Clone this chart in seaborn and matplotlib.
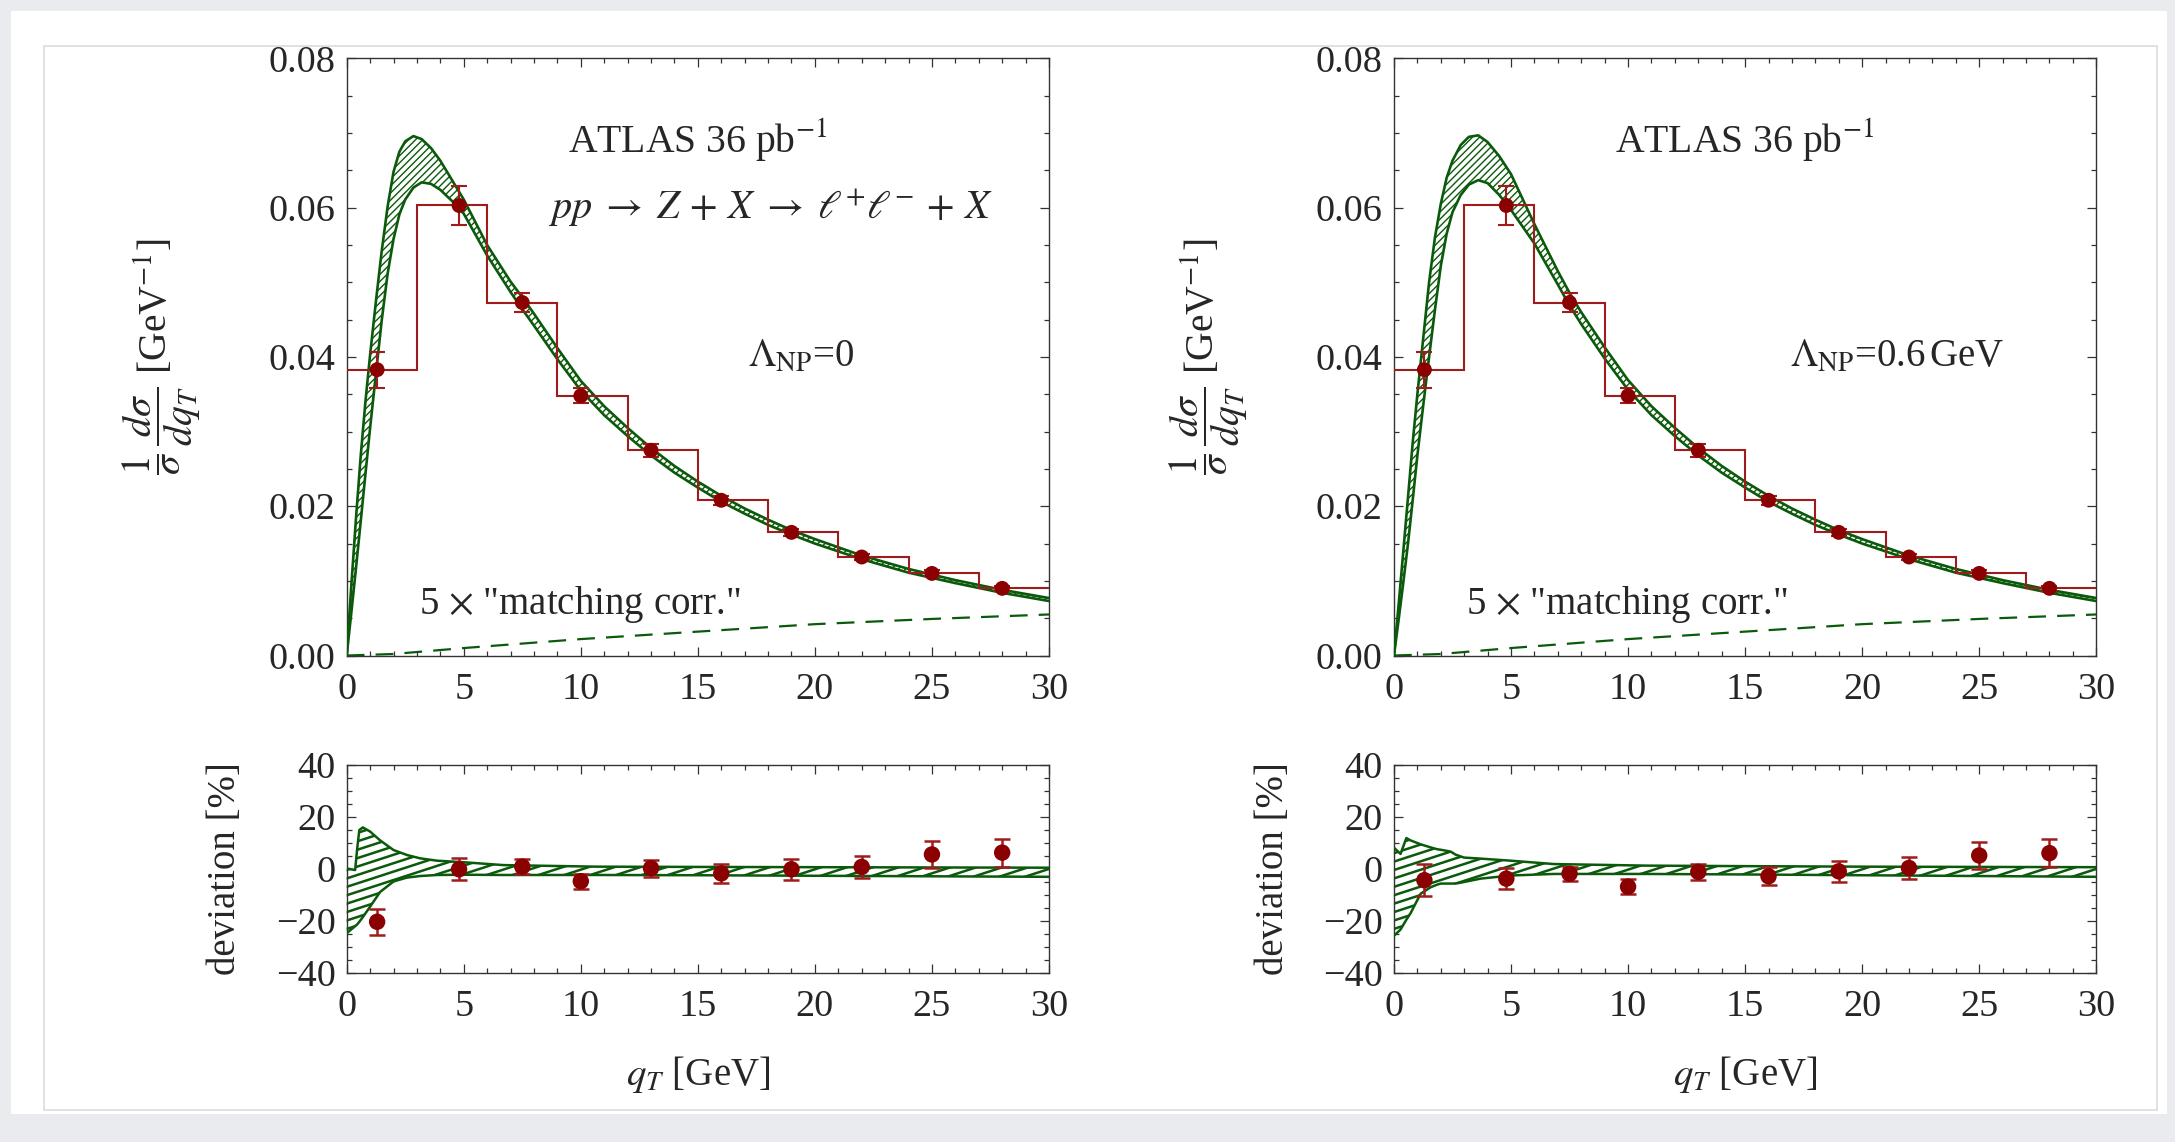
import numpy as np
import matplotlib
matplotlib.use("Agg")
import matplotlib.pyplot as plt
import seaborn as sns
from matplotlib.ticker import MultipleLocator, FormatStrFormatter
from matplotlib.patches import Rectangle
from matplotlib.collections import LineCollection

# =====================================================
# DATA
# =====================================================

# ATLAS 36 pb^-1 measurement, binned in qT
bin_edges = [0, 3, 6, 9, 12, 15, 18, 21, 24, 27, 30]
atlas_qt = [1.3, 4.8, 7.5, 10, 13, 16, 19, 22, 25, 28]
atlas_xs = [0.0383, 0.0603, 0.0473, 0.0348, 0.0275, 0.0208, 0.0165, 0.0132, 0.0110, 0.0090]
atlas_err = [0.0024, 0.0026, 0.0013, 0.0010, 0.0009, 0.0006, 0.0005, 0.0004, 0.0004, 0.0003]

# deviation of data from theory [%]
dev_data_0 = [-20.3, -0.1, 0.9, -4.7, 0.3, -1.7, -0.1, 0.8, 5.6, 6.3]
dev_err_0 = [5.1, 4.2, 3.0, 2.9, 3.3, 3.5, 4.1, 4.2, 5.3, 5.4]
dev_data_6 = [-4.3, -3.7, -1.8, -6.8, -1.1, -2.8, -0.9, 0.4, 5.2, 6.1]
dev_err_6 = [6.1, 4.1, 2.7, 2.8, 3.2, 3.4, 4.0, 4.1, 5.2, 5.3]

# theory band, qT grid
theory_qt = [0, 0.2, 0.4, 0.6, 0.8, 1.0, 1.25, 1.5, 1.75, 2.0, 2.25, 2.5, 2.85, 3.2, 3.6,
             4.0, 4.5, 5.0, 6, 7, 7.5, 8, 9, 10, 11, 12, 13, 14, 15, 16, 17, 18, 19, 20,
             22, 24, 26, 28, 30]
# Lambda_NP = 0
band_hi_0 = [0, 0.0095, 0.0185, 0.0268, 0.0340, 0.0403, 0.0475, 0.0543, 0.0602, 0.0648,
             0.0675, 0.0689, 0.0696, 0.0692, 0.0680, 0.0663, 0.0637, 0.0611, 0.0550, 0.0501,
             0.0480, 0.0458, 0.0412, 0.0368, 0.0334, 0.0305, 0.0278, 0.0254, 0.0233, 0.0214,
             0.0197, 0.0182, 0.0168, 0.0156, 0.0134, 0.0116, 0.0101, 0.0088, 0.0077]
band_lo_0 = [0, 0.0058, 0.0118, 0.0180, 0.0243, 0.0305, 0.0378, 0.0450, 0.0512, 0.0558,
             0.0591, 0.0611, 0.0627, 0.0634, 0.0632, 0.0624, 0.0609, 0.0592, 0.0536, 0.0487,
             0.0464, 0.0442, 0.0397, 0.0355, 0.0322, 0.0294, 0.0268, 0.0245, 0.0225, 0.0206,
             0.0190, 0.0175, 0.0162, 0.0150, 0.0129, 0.0111, 0.0097, 0.0084, 0.0073]
# Lambda_NP = 0.6 GeV
band_hi_6 = [0, 0.0068, 0.0140, 0.0212, 0.0285, 0.0350, 0.0425, 0.0500, 0.0560, 0.0605,
             0.0640, 0.0663, 0.0684, 0.0695, 0.0697, 0.0688, 0.0669, 0.0645, 0.0578, 0.0515,
             0.0486, 0.0460, 0.0413, 0.0369, 0.0334, 0.0305, 0.0278, 0.0254, 0.0233, 0.0214,
             0.0197, 0.0182, 0.0168, 0.0156, 0.0134, 0.0116, 0.0101, 0.0088, 0.0077]
band_lo_6 = [0, 0.0048, 0.0098, 0.0150, 0.0208, 0.0268, 0.0335, 0.0400, 0.0463, 0.0522,
             0.0565, 0.0594, 0.0617, 0.0631, 0.0637, 0.0633, 0.0617, 0.0597, 0.0552, 0.0497,
             0.0469, 0.0444, 0.0398, 0.0356, 0.0322, 0.0294, 0.0268, 0.0245, 0.0225, 0.0206,
             0.0190, 0.0175, 0.0162, 0.0150, 0.0129, 0.0111, 0.0097, 0.0084, 0.0073]

# 5 x "matching corr."
match_qt = [0, 2, 5, 10, 15, 20, 25, 30]
match_val = [0, 0.0002, 0.0010, 0.0022, 0.0032, 0.0042, 0.0049, 0.0055]

# deviation band [%]
dev_qt_0 = [0, 0.36, 0.45, 0.54, 0.69, 1.0, 1.43, 2.0, 2.57, 3.14, 3.86, 5, 6.7, 10.7, 15, 20, 25, 30]
dev_hi_0 = [0.2, -0.4, 8, 15, 16, 14.4, 11, 7.3, 5.4, 4.1, 3.2, 2.6, 1.5, 0.9, 0.8, 0.7, 0.6, 0.5]
dev_lo_0 = [-24.7, -22, -21.3, -20.3, -18.5, -14.5, -8.8, -4.8, -3.3, -2.7, -2.3, -2.2, -2.3,
            -2.3, -2.4, -2.6, -2.8, -3.0]
dev_qt_6 = [0, 0.28, 0.53, 0.71, 1.14, 1.57, 1.85, 2.0, 2.42, 2.64, 2.99, 3.7, 4.99, 6.84, 10.8,
            15, 20, 25, 30]
dev_hi_6 = [8.2, 5.8, 11.9, 11, 9.5, 8.3, 7.6, 7.4, 6.7, 5.5, 4.4, 4.0, 3.2, 1.9, 1.3, 1.1, 0.9,
            0.8, 0.7]
dev_lo_6 = [-25.7, -23.3, -19.5, -17, -9.5, -7, -6, -5.6, -5.6, -5.6, -5, -3.7, -2.5, -1.9, -1.9,
            -2.1, -2.4, -2.7, -3.0]

panels = [
    {"hi": band_hi_0, "lo": band_lo_0, "dqt": dev_qt_0, "dhi": dev_hi_0, "dlo": dev_lo_0,
     "dev": dev_data_0, "derr": dev_err_0, "lam": r"$\Lambda_{\mathrm{NP}}$=0", "lam_x": 19.4,
     "process": True, "left": 0.1594},
    {"hi": band_hi_6, "lo": band_lo_6, "dqt": dev_qt_6, "dhi": dev_hi_6, "dlo": dev_lo_6,
     "dev": dev_data_6, "derr": dev_err_6, "lam": r"$\Lambda_{\mathrm{NP}}$=0.6$\,$GeV",
     "lam_x": 21.5, "process": False, "left": 0.6409},
]

# =====================================================
# STYLE
# =====================================================

sns.set_style("ticks")
plt.rcParams["font.family"] = ["Liberation Serif", "DejaVu Serif"]
plt.rcParams["mathtext.fontset"] = "stix"
plt.rcParams["axes.linewidth"] = 1.0
plt.rcParams["axes.edgecolor"] = "#333333"

RED = "#8b0000"
RED_LINE = "#a01c1c"
GREEN = "#0b5a0b"

fig = plt.figure(figsize=(21.75, 11.42), dpi=100)
fig.patch.set_facecolor("#eaebef")
fig.add_artist(Rectangle((11 / 2175, 1 - 1114 / 1142), 2156 / 2175, 1103 / 1142,
                         transform=fig.transFigure, facecolor="white", edgecolor="none",
                         zorder=-10))
fig.add_artist(Rectangle((44 / 2175, 1 - 1110 / 1142), 2113 / 2175, 1064 / 1142,
                         transform=fig.transFigure, facecolor="white", edgecolor="#dcdcdc",
                         linewidth=1.2, zorder=-9))


def hatch_band(ax, band, angle, spacing, lw):
    # manual hatching (clipped to the band) so the angle can be chosen
    bb = ax.get_window_extent()
    cx, cy = (bb.x0 + bb.x1) / 2, (bb.y0 + bb.y1) / 2
    diag = np.hypot(bb.width, bb.height)
    a = np.deg2rad(angle)
    d = np.array([np.cos(a), np.sin(a)])
    n = np.array([-np.sin(a), np.cos(a)])
    inv = ax.transAxes.inverted()
    segs = []
    for c in np.arange(-diag, diag, spacing):
        p0 = np.array([cx, cy]) + c * n - diag * d
        p1 = np.array([cx, cy]) + c * n + diag * d
        segs.append(inv.transform([p0, p1]))
    lc = LineCollection(segs, colors=GREEN, linewidths=lw, transform=ax.transAxes, zorder=2)
    lc.set_clip_path(band.get_paths()[0], ax.transData)
    ax.add_collection(lc)


def style_axes(ax, ymaj, ymin):
    ax.set_xlim(0, 30)
    ax.xaxis.set_major_locator(MultipleLocator(5))
    ax.xaxis.set_minor_locator(MultipleLocator(1))
    ax.yaxis.set_major_locator(MultipleLocator(ymaj))
    ax.yaxis.set_minor_locator(MultipleLocator(ymin))
    ax.tick_params(which="both", direction="in", top=True, right=True, width=0.9,
                   color="#333333", labelsize=27.5)
    ax.tick_params(which="major", length=6.5)
    ax.tick_params(which="minor", length=3.6)
    ax.tick_params(axis="x", pad=12)
    ax.tick_params(axis="y", pad=8)
    for s in ax.spines.values():
        s.set_visible(True)


for p in panels:
    ax = fig.add_axes([p["left"], 0.4260, 0.3229, 0.5228])
    axd = fig.add_axes([p["left"], 0.1480, 0.3229, 0.1821])

    # ---------------- top panel ----------------
    band = ax.fill_between(theory_qt, p["lo"], p["hi"], facecolor="white", edgecolor="none",
                           zorder=1)
    hatch_band(ax, band, 45, 5.0, 1.0)
    sns.lineplot(x=theory_qt, y=p["hi"], ax=ax, color=GREEN, lw=1.9, zorder=3)
    sns.lineplot(x=theory_qt, y=p["lo"], ax=ax, color=GREEN, lw=1.9, zorder=3)
    sns.lineplot(x=match_qt, y=match_val, ax=ax, color=GREEN, lw=1.6, zorder=3,
                 dashes=False, linestyle=(0, (8, 5)))
    ax.stairs(atlas_xs, bin_edges, baseline=None, color=RED_LINE, lw=1.5, zorder=4)
    ax.errorbar(atlas_qt, atlas_xs, yerr=atlas_err, fmt="none", ecolor=RED_LINE,
                elinewidth=1.5, capsize=5.5, capthick=1.5, zorder=5)
    sns.scatterplot(x=atlas_qt, y=atlas_xs, ax=ax, color=RED, s=115, edgecolor="none", zorder=6)

    ax.set_ylim(0, 0.08)
    style_axes(ax, 0.02, 0.005)
    ax.yaxis.set_major_formatter(FormatStrFormatter("%.2f"))
    ax.set_ylabel(r"$\dfrac{1}{\sigma}\,\dfrac{d\sigma}{dq_T}$ [GeV$^{-1}$]", fontsize=28.5)
    ax.yaxis.set_label_coords(-0.263, 0.5)
    ax.yaxis.label.set_va("center")

    ax.text(15, 0.0692, r"ATLAS 36 pb$^{-1}$", fontsize=28.5, ha="center", va="center")
    if p["process"]:
        ax.text(18.1, 0.0600,
                r"$pp \;\rightarrow\; Z \,+\, X \;\rightarrow\; \ell^{+}\ell^{-} \,+\, X$",
                fontsize=29, ha="center", va="center")
    ax.text(p["lam_x"], 0.0399, p["lam"], fontsize=28, ha="center", va="center")
    ax.text(9.97, 0.0068, r'5 $\times$ "matching corr."', fontsize=28, ha="center",
            va="center")

    # ---------------- deviation panel ----------------
    dband = axd.fill_between(p["dqt"], p["dlo"], p["dhi"], facecolor="white",
                             edgecolor="none", zorder=1)
    hatch_band(axd, dband, 18, 8.0, 1.8)
    sns.lineplot(x=p["dqt"], y=p["dhi"], ax=axd, color=GREEN, lw=1.8, zorder=3)
    sns.lineplot(x=p["dqt"], y=p["dlo"], ax=axd, color=GREEN, lw=1.8, zorder=3)
    axd.errorbar(atlas_qt, p["dev"], yerr=p["derr"], fmt="none", ecolor=RED_LINE,
                 elinewidth=1.8, capsize=6, capthick=1.8, zorder=5)
    sns.scatterplot(x=atlas_qt, y=p["dev"], ax=axd, color=RED, s=140, edgecolor="none",
                    zorder=6)

    axd.set_ylim(-40, 40)
    style_axes(axd, 20, 5)
    axd.set_ylabel("deviation [%]", fontsize=28)
    axd.yaxis.set_label_coords(-0.172, 0.5)
    axd.yaxis.label.set_va("center")
    axd.set_xlabel(r"$q_T$ [GeV]", fontsize=28)
    axd.xaxis.set_label_coords(0.5, -0.49)
    axd.xaxis.label.set_va("center")

fig.savefig("out.png", dpi=100, facecolor=fig.get_facecolor())
plt.close(fig)
